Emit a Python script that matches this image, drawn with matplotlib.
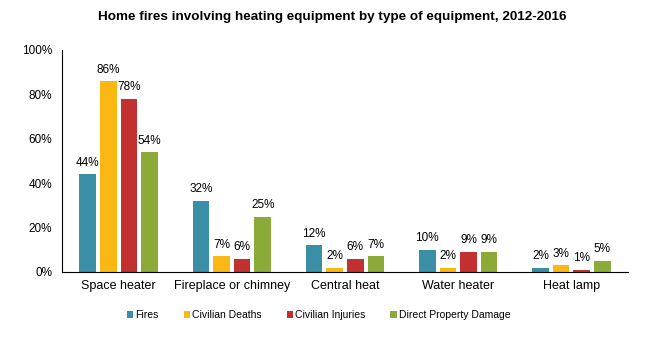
import matplotlib
matplotlib.use("Agg")
import matplotlib.pyplot as plt
import numpy as np

categories = ["Space heater", "Fireplace or chimney", "Central heat", "Water heater", "Heat lamp"]
series_names = ["Fires", "Civilian Deaths", "Civilian Injuries", "Direct Property Damage"]
fires = [44, 32, 12, 10, 2]
deaths = [86, 7, 2, 2, 3]
injuries = [78, 6, 6, 9, 1]
damage = [54, 25, 7, 9, 5]
colors = ["#3A8EA5", "#FBB714", "#C2302F", "#8BAA38"]
yticks = [0, 20, 40, 60, 80, 100]

plt.rcParams['font.family'] = ['Liberation Sans', 'DejaVu Sans']

fig = plt.figure(figsize=(6.64, 3.52), dpi=100)
ax = fig.add_axes([62/664, 1-272/352, (628-62)/664, (272-50)/352])

x = np.arange(len(categories))
width = 0.145
step = 0.182
data = [fires, deaths, injuries, damage]
for i, (vals, name, c) in enumerate(zip(data, series_names, colors)):
    pos = x + (i - 1.5) * step
    bars = ax.bar(pos, vals, width, color=c, label=name)
    for b, v in zip(bars, vals):
        ax.text(b.get_x() + b.get_width()/2, v + 2.5, f"{v}%", ha="center", va="bottom",
                fontsize=8.5, color="#000000")

ax.set_xlim(-0.5, len(categories) - 0.5)
ax.set_ylim(0, 100)
ax.set_yticks(yticks)
ax.set_yticklabels([f"{t}%" for t in yticks], fontsize=8.5)
ax.set_xticks(x)
ax.set_xticklabels(categories, fontsize=9)
ax.tick_params(axis='x', length=0, pad=6)
ax.tick_params(axis='y', length=0, pad=7)
for s in ["top", "right"]:
    ax.spines[s].set_visible(False)
ax.spines["left"].set_color("black")
ax.spines["bottom"].set_color("black")

fig.text(0.5, 1-17/352, "Home fires involving heating equipment by type of equipment, 2012-2016",
         ha="center", va="center", fontsize=9.7, fontweight="bold")

handles, labels = ax.get_legend_handles_labels()
fig.legend(handles, labels, loc="center", bbox_to_anchor=(0.48, 1-315/352), ncol=4,
           frameon=False, fontsize=7.5, handlelength=0.6, handleheight=0.6,
           handletextpad=0.2, columnspacing=2.4)

fig.savefig("out.png", dpi=100)
